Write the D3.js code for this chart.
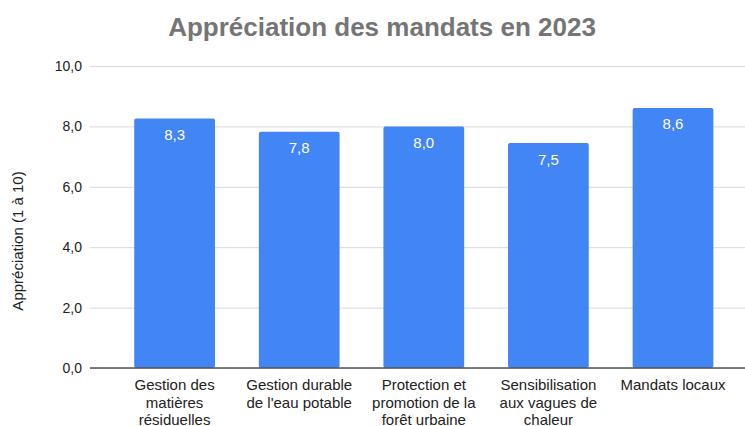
<!DOCTYPE html>
<html>
<head>
<meta charset="utf-8">
<script src="https://cdn.jsdelivr.net/npm/d3@7"></script>
<style>
  body { margin: 0; background: #fff; }
  text { font-family: "Liberation Sans", Arial, sans-serif; }
</style>
</head>
<body>
<svg id="chart" width="745" height="426"></svg>
<script>
const categories = [
    ["Gestion des", "matières", "résiduelles"],
    ["Gestion durable", "de l'eau potable"],
    ["Protection et", "promotion de la", "forêt urbaine"],
    ["Sensibilisation", "aux vagues de", "chaleur"],
    ["Mandats locaux"]
];
const values = [8.26, 7.82, 8.0, 7.45, 8.61];
const yTicks = [0, 2, 4, 6, 8, 10];

const width = 745, height = 426;
const margin = {top: 66, right: 0, bottom: 58, left: 90};
const fmt = v => d3.format(".1f")(v).replace(".", ",");

let svg = d3.select("#chart");
let g = svg.append("g").attr("transform", `translate(${margin.left},${margin.top})`);
let innerW = width - margin.left - margin.right,
    innerH = height - margin.top - margin.bottom;

// bars sit in a slightly narrower band than the gridlines
let x = d3.scaleBand().domain(d3.range(values.length)).range([22.3, 645.3]).paddingInner(0.352).paddingOuter(0.176);
let y = d3.scaleLinear().domain([0, 10]).range([innerH, 0]);

// gridlines
g.append("g")
    .call(d3.axisLeft(y).tickValues(yTicks).tickSize(-innerW).tickFormat(""))
    .call(a => a.select(".domain").remove())
    .call(a => a.selectAll("line").attr("stroke", "#d9d9d9"));

// y tick labels
g.append("g")
    .attr("transform", "translate(-8,0)")
    .call(d3.axisLeft(y).tickValues(yTicks).tickSize(0).tickPadding(0).tickFormat(fmt))
    .call(a => a.select(".domain").remove())
    .call(a => a.selectAll("text").attr("font-size", 14).attr("fill", "#222"));

// bars
g.selectAll(".bar").data(values).enter().append("rect")
    .attr("class", "bar")
    .attr("x", (d, i) => x(i))
    .attr("y", d => y(d))
    .attr("width", x.bandwidth())
    .attr("height", d => innerH - y(d))
    .attr("rx", 2)
    .attr("fill", "#4285f4");

// value labels
g.selectAll(".lbl").data(values).enter().append("text")
    .attr("x", (d, i) => x(i) + x.bandwidth() / 2)
    .attr("y", d => y(d) + 21.5)
    .attr("text-anchor", "middle")
    .attr("font-size", 15)
    .attr("fill", "#fff")
    .text(fmt);

// baseline
g.append("line")
    .attr("x1", 0).attr("x2", innerW)
    .attr("y1", innerH).attr("y2", innerH)
    .attr("stroke", "#555").attr("stroke-width", 1.5);

// x labels
let xl = g.selectAll(".xl").data(categories).enter().append("text")
    .attr("text-anchor", "middle")
    .attr("font-size", 15)
    .attr("fill", "#222")
    .attr("transform", (d, i) => `translate(${x(i) + x.bandwidth() / 2},${innerH + 22})`);
xl.selectAll("tspan").data(d => d).enter().append("tspan")
    .attr("x", 0)
    .attr("dy", (d, i) => i ? 17.5 : 0)
    .text(d => d);

// y axis title
svg.append("text")
    .attr("transform", "translate(23,241) rotate(-90)")
    .attr("text-anchor", "middle")
    .attr("font-size", 15)
    .attr("fill", "#222")
    .text("Appréciation (1 à 10)");

// title
svg.append("text")
    .attr("x", 382).attr("y", 36)
    .attr("text-anchor", "middle")
    .attr("font-size", 26)
    .attr("font-weight", "bold")
    .attr("fill", "#757575")
    .text("Appréciation des mandats en 2023");
</script>
</body>
</html>
